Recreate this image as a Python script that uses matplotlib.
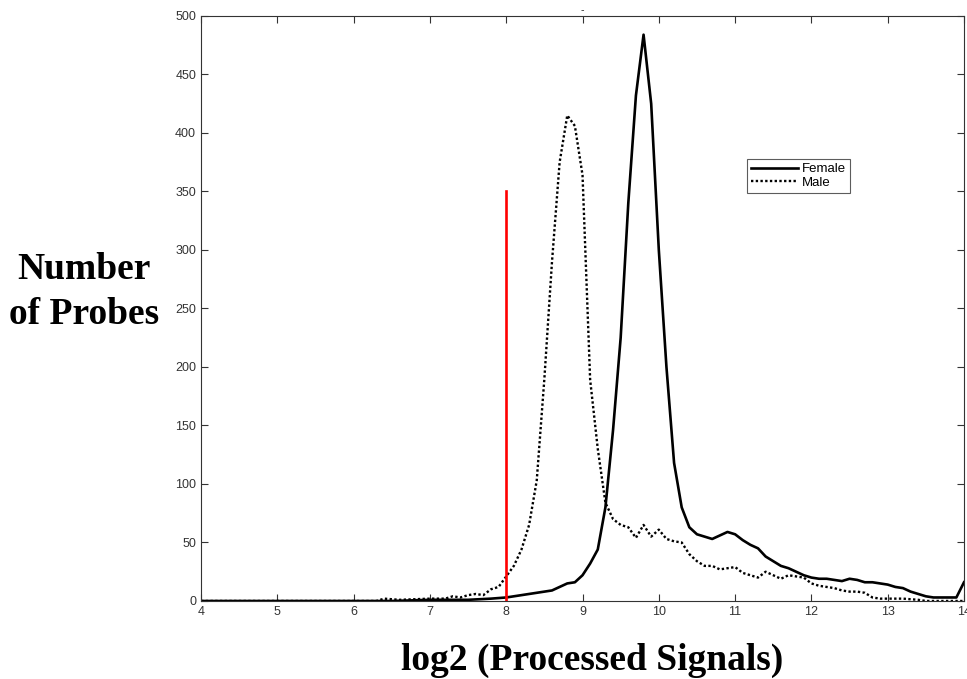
import matplotlib.pyplot as plt

# signal bins (log2) and probe counts
x_female = [4.0, 4.5, 5.0, 5.5, 6.0, 6.5, 7.0, 7.5, 7.8, 8.0, 8.2, 8.4, 8.6, 8.7, 8.8, 8.9,
            9.0, 9.1, 9.2, 9.3, 9.4, 9.5, 9.6, 9.7, 9.8, 9.9, 10.0, 10.1, 10.2, 10.3,
            10.4, 10.5, 10.6, 10.7, 10.8, 10.9, 11.0, 11.1, 11.2, 11.3, 11.4, 11.5,
            11.6, 11.7, 11.8, 11.9, 12.0, 12.1, 12.2, 12.3, 12.4, 12.5, 12.6, 12.7,
            12.8, 12.9, 13.0, 13.1, 13.2, 13.3, 13.4, 13.5, 13.6, 13.7, 13.8, 13.9, 14.0]
y_female = [0, 0, 0, 0, 0, 0, 1, 1, 2, 3, 5, 7, 9, 12, 15, 16,
            22, 32, 44, 80, 146, 225, 340, 432, 484, 425, 300, 200, 118, 80,
            63, 57, 55, 53, 56, 59, 57, 52, 48, 45, 38, 34,
            30, 28, 25, 22, 20, 19, 19, 18, 17, 19, 18, 16,
            16, 15, 14, 12, 11, 8, 6, 4, 3, 3, 3, 3, 16]

x_male = [4.0, 5.0, 6.0, 6.3, 6.4, 6.6, 7.0, 7.2, 7.3, 7.4, 7.5, 7.6, 7.7, 7.8, 7.9,
          8.0, 8.1, 8.2, 8.3, 8.4, 8.5, 8.6, 8.7, 8.8, 8.9, 9.0, 9.1, 9.2, 9.3,
          9.4, 9.5, 9.6, 9.7, 9.8, 9.9, 10.0, 10.1, 10.2, 10.3, 10.4, 10.5, 10.6,
          10.7, 10.8, 10.9, 11.0, 11.1, 11.2, 11.3, 11.4, 11.5, 11.6, 11.7, 11.8,
          11.9, 12.0, 12.1, 12.2, 12.3, 12.4, 12.5, 12.6, 12.7, 12.8, 12.9, 13.0,
          13.2, 13.4, 13.5, 14.0]
y_male = [0, 0, 0, 0, 2, 1, 2, 2, 4, 3, 5, 6, 5, 10, 12,
          21, 30, 44, 65, 103, 190, 290, 375, 415, 406, 364, 189, 130, 84,
          70, 65, 63, 54, 65, 55, 61, 53, 51, 50, 40, 34, 30,
          30, 27, 28, 29, 24, 22, 20, 25, 22, 19, 22, 21,
          20, 15, 13, 12, 11, 9, 8, 8, 7, 3, 2, 2,
          2, 1, 0, 0]

cutoff = 8
cutoff_top = 350

fig = plt.figure(figsize=(9.67, 6.79), dpi=100)
ax = fig.add_axes([0.2079, 0.1149, 0.789, 0.8616])

ax.plot(x_female, y_female, color='black', lw=1.9, label='Female')
ax.plot(x_male, y_male, color='black', lw=1.7, ls=(0, (1, 1)), label='Male')
ax.plot([cutoff, cutoff], [0, cutoff_top], color='red', lw=1.9)

ax.set_xlim(4, 14)
ax.set_ylim(0, 500)
ax.set_xticks(range(4, 15))
ax.set_yticks(range(0, 501, 50))
ax.tick_params(direction='in', top=True, right=True, labelsize=9,
               colors='#333333', length=5, width=0.8)
for s in ax.spines.values():
    s.set_color('#333333')
    s.set_linewidth(0.8)
for lab in ax.get_xticklabels() + ax.get_yticklabels():
    lab.set_family('Liberation Sans')

leg = ax.legend(loc='upper left', bbox_to_anchor=(0.715, 0.755),
                prop={'family': 'Liberation Sans', 'size': 9.5},
                frameon=True, fancybox=False, edgecolor='#333333', borderpad=0.3,
                handlelength=3.6, handletextpad=0.3, labelspacing=0.1,
                borderaxespad=0)
leg.get_frame().set_linewidth(0.8)

ax.set_title('-', fontsize=7, pad=2, color='#333333')

fig.text(0.087, 0.570, 'Number\nof Probes', ha='center', va='center',
         family='Liberation Serif', weight='bold', fontsize=27, linespacing=1.35)
fig.text(0.612, 0.027, 'log2 (Processed Signals)', ha='center', va='center',
         family='Liberation Serif', weight='bold', fontsize=27)

fig.savefig('out.png', dpi=100)
